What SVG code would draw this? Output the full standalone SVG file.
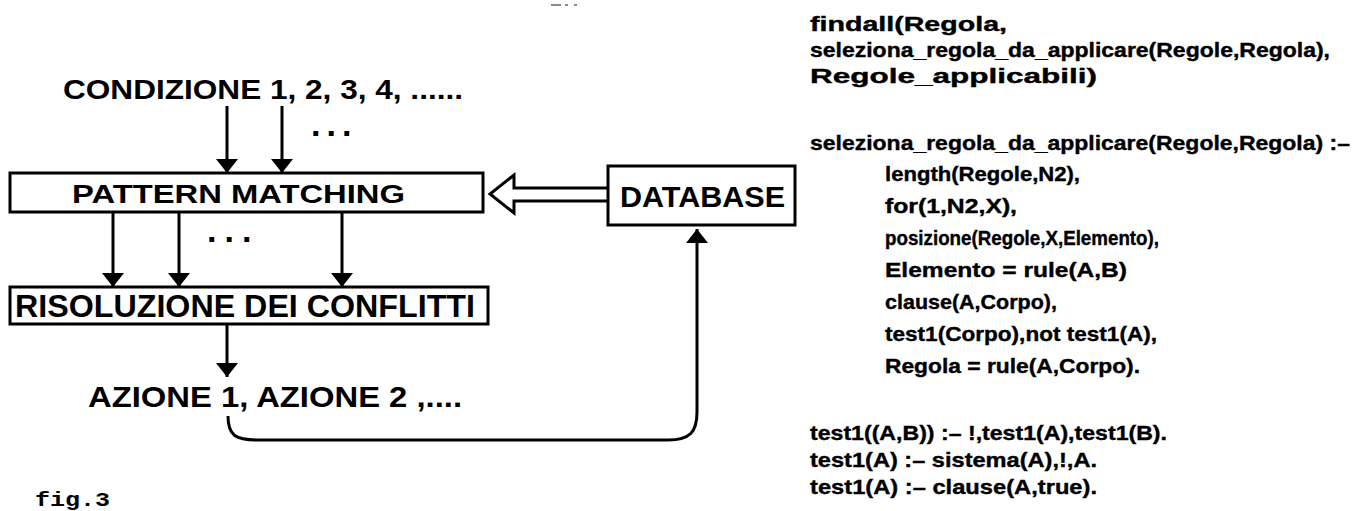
<svg xmlns="http://www.w3.org/2000/svg" width="1368" height="511" viewBox="0 0 1368 511">
  <style>
    .box { fill: #fff; stroke: #000; stroke-width: 3; }
    .wire { fill: none; stroke: #000; stroke-width: 3; }
    .label { font-family: "Liberation Sans", Arial, sans-serif; font-weight: bold; fill: #000; }
    .dots { font-family: "Liberation Sans", Arial, sans-serif; font-weight: bold; font-size: 34px; fill: #000; }
    .code { font-family: "Liberation Sans", Arial, sans-serif; font-weight: bold; font-size: 21px; fill: #000; stroke: #000; stroke-width: 0.4; }
    .cap { font-family: "Liberation Mono", "Courier New", monospace; font-weight: bold; font-size: 20px; fill: #000; }
  </style>
  <defs>
    <!-- solid triangular head, tip on the end of the line -->
    <marker id="head" viewBox="0 0 14 22" refX="14" refY="11" markerWidth="14" markerHeight="22" markerUnits="userSpaceOnUse" orient="auto">
      <path d="M0,0 L14,11 L0,22 Z" fill="#000"/>
    </marker>
  </defs>
  <rect width="1368" height="511" fill="#fff"/>

  <!-- faint marks at the top edge -->
  <g fill="#8a8a8a">
    <rect x="551" y="4" width="10" height="2"/>
    <rect x="565" y="4" width="3" height="2"/>
    <rect x="574" y="4" width="3" height="2"/>
  </g>

  <!-- conditions -->
  <g id="condizioni">
    <text class="label" x="63" y="99" font-size="28" textLength="400" lengthAdjust="spacingAndGlyphs">CONDIZIONE 1, 2, 3, 4, ......</text>
    <text class="dots" x="311" y="136" letter-spacing="6">...</text>
  </g>

  <!-- pattern matching -->
  <g id="pattern-matching">
    <rect class="box" x="10" y="173" width="473" height="39"/>
    <text class="label" x="72" y="203" font-size="25" textLength="333" lengthAdjust="spacingAndGlyphs">PATTERN MATCHING</text>
  </g>

  <!-- database -->
  <g id="database">
    <rect class="box" x="608" y="166" width="187" height="59"/>
    <text class="label" x="620" y="207" font-size="30" textLength="165" lengthAdjust="spacingAndGlyphs">DATABASE</text>
  </g>

  <!-- conflict resolution -->
  <g id="risoluzione">
    <rect class="box" x="10" y="287" width="478" height="37"/>
    <text class="label" x="15" y="317" font-size="31" textLength="460" lengthAdjust="spacingAndGlyphs">RISOLUZIONE DEI CONFLITTI</text>
  </g>

  <!-- actions -->
  <g id="azioni">
    <text class="label" x="88" y="407" font-size="30" textLength="374" lengthAdjust="spacingAndGlyphs">AZIONE 1, AZIONE 2 ,....</text>
  </g>

  <!-- figure caption -->
  <g id="didascalia">
    <text class="cap" x="35" y="506" textLength="75" lengthAdjust="spacingAndGlyphs">fig.3</text>
  </g>

  <!-- connectors -->
  <g id="connectors">
    <line class="wire" x1="227" y1="106" x2="227" y2="173" marker-end="url(#head)"/>
    <line class="wire" x1="282" y1="106" x2="282" y2="173" marker-end="url(#head)"/>
    <line class="wire" x1="113" y1="212" x2="113" y2="287" marker-end="url(#head)"/>
    <line class="wire" x1="179" y1="212" x2="179" y2="287" marker-end="url(#head)"/>
    <line class="wire" x1="342" y1="212" x2="342" y2="287" marker-end="url(#head)"/>
    <line class="wire" x1="227" y1="325" x2="227" y2="377" marker-end="url(#head)"/>
    <text class="dots" x="207" y="242" letter-spacing="8">...</text>
    <!-- hollow arrow from the database into pattern matching -->
    <path class="wire" d="M608,188 H514 V175 L490,194 L514,213 V201 H608"/>
    <!-- feedback from the actions back to the database -->
    <path class="wire" d="M228,416 C228,436 236,440 258,440 H668 C690,440 697,432 697,412 V229" marker-end="url(#head)"/>
  </g>

  <!-- Prolog listing -->
  <g id="listato">
    <text class="code" x="810" y="31" textLength="197" lengthAdjust="spacingAndGlyphs">findall(Regola,</text>
    <text class="code" x="810" y="57" textLength="520" lengthAdjust="spacingAndGlyphs">seleziona_regola_da_applicare(Regole,Regola),</text>
    <text class="code" x="810" y="83" textLength="287" lengthAdjust="spacingAndGlyphs">Regole_applicabili)</text>

    <text class="code" x="810" y="150" textLength="540" lengthAdjust="spacingAndGlyphs">seleziona_regola_da_applicare(Regole,Regola) :–</text>
    <text class="code" x="885" y="181" textLength="195" lengthAdjust="spacingAndGlyphs">length(Regole,N2),</text>
    <text class="code" x="885" y="213" textLength="132" lengthAdjust="spacingAndGlyphs">for(1,N2,X),</text>
    <text class="code" x="885" y="245" textLength="274" lengthAdjust="spacingAndGlyphs">posizione(Regole,X,Elemento),</text>
    <text class="code" x="885" y="277" textLength="242" lengthAdjust="spacingAndGlyphs">Elemento = rule(A,B)</text>
    <text class="code" x="885" y="309" textLength="172" lengthAdjust="spacingAndGlyphs">clause(A,Corpo),</text>
    <text class="code" x="885" y="341" textLength="272" lengthAdjust="spacingAndGlyphs">test1(Corpo),not test1(A),</text>
    <text class="code" x="885" y="373" textLength="255" lengthAdjust="spacingAndGlyphs">Regola = rule(A,Corpo).</text>

    <text class="code" x="810" y="440" textLength="357" lengthAdjust="spacingAndGlyphs">test1((A,B)) :– !,test1(A),test1(B).</text>
    <text class="code" x="810" y="467" textLength="287" lengthAdjust="spacingAndGlyphs">test1(A) :– sistema(A),!,A.</text>
    <text class="code" x="810" y="494" textLength="287" lengthAdjust="spacingAndGlyphs">test1(A) :– clause(A,true).</text>
  </g>
</svg>
